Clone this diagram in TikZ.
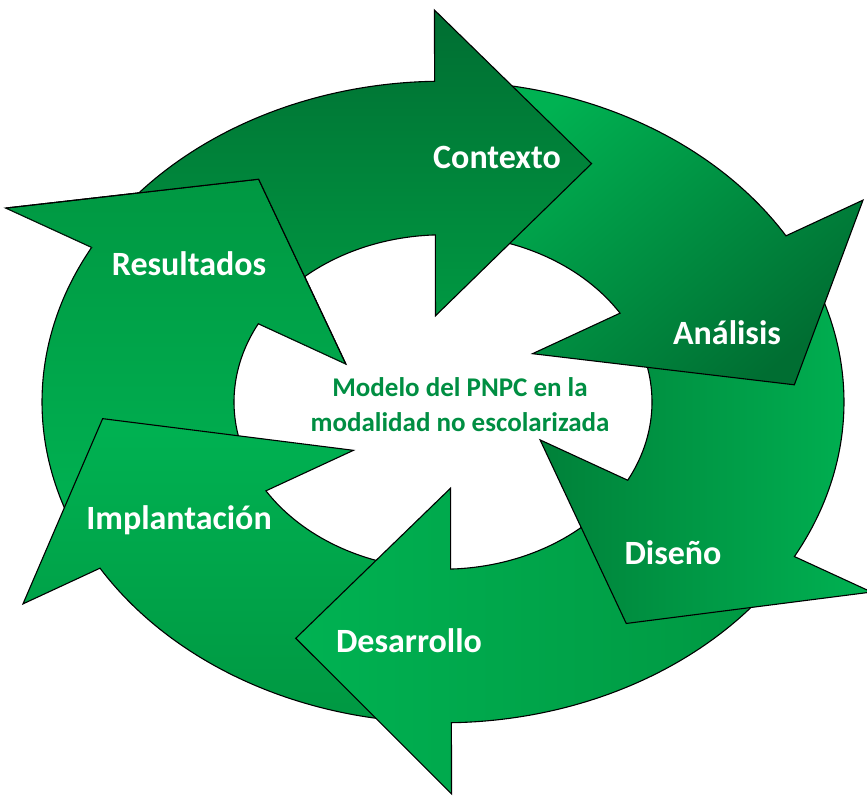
\documentclass[tikz,border=0pt]{standalone}
\usepackage{fontspec}
\setmainfont{Carlito}

\definecolor{glight}{RGB}{0,178,82}
\definecolor{gmid}{RGB}{0,152,66}
\definecolor{gdark}{RGB}{0,110,50}
\definecolor{gtext}{RGB}{0,142,66}

% one curved arrow of the ring: #2 = angle of the head base, #3 = tip radius, #4 = outer barb radius
\newcommand{\cyclearrow}[4][]{%
  \path[arrowpart,#1] ({#2+52}:401) arc[start angle={#2+52}, end angle={#2+0.2}, radius=401]
    -- (#2:#4) -- ({#2-27.5}:#3) -- ({#2+3}:108) -- ({#2+1.1}:209)
    arc[start angle={#2+1.1}, end angle={#2+52}, radius=209] -- cycle;}

\begin{document}
\begin{tikzpicture}[x=1pt, y=1pt,
  arrowpart/.style={draw=black, line width=1.1pt, line join=miter},
  contexto/.style={top color=gdark, bottom color=gmid},
  analisis/.style={top color=glight, bottom color=gdark, shading angle=40},
  diseno/.style={left color=gdark!55!gmid, right color=glight},
  desarrollo/.style={left color=glight, middle color=gdark!80!gmid, right color=gmid},
  implantacion/.style={top color=glight, bottom color=gmid},
  resultados/.style={top color=gmid, bottom color=glight},
  steplabel/.style={text=white, font=\bfseries\fontsize{34}{40}\selectfont, anchor=base, inner sep=0pt},
  modellabel/.style={text=gtext, font=\bfseries\fontsize{27}{35}\selectfont, align=center, inner sep=0pt}]
  \useasboundingbox (0,0) rectangle (867,796);

  \begin{scope}[shift={(443,394)}, yscale=0.8]
    \cyclearrow[resultados]{151}{334}{500}
    \cyclearrow[implantacion]{-149}{341}{490}
    \cyclearrow[desarrollo]{-89}{330}{490}
    \cyclearrow[diseno]{-29}{332}{490}
    \cyclearrow[analisis]{31}{352}{490}
    \cyclearrow[contexto]{91}{333}{490}
    % head of Resultados lies over the tail of Contexto
    \begin{scope}
      \clip (151:500) -- (123.5:334) -- (154:108) -- cycle;
      \cyclearrow[resultados]{151}{334}{500}
    \end{scope}
    \draw[arrowpart] (151:500) -- (123.5:334) -- (154:108);
  \end{scope}

  \node[steplabel] (contexto) at (497,627) {Contexto};
  \node[steplabel] (analisis) at (727,451) {Análisis};
  \node[steplabel] (diseno) at (673,232) {Diseño};
  \node[steplabel] (desarrollo) at (409,144) {Desarrollo};
  \node[steplabel] (implantacion) at (179,267) {Implantación};
  \node[steplabel] (resultados) at (189,520) {Resultados};
  \node[modellabel] (modelo) at (460,391) {Modelo del PNPC en la\\modalidad no escolarizada};
\end{tikzpicture}
\end{document}
